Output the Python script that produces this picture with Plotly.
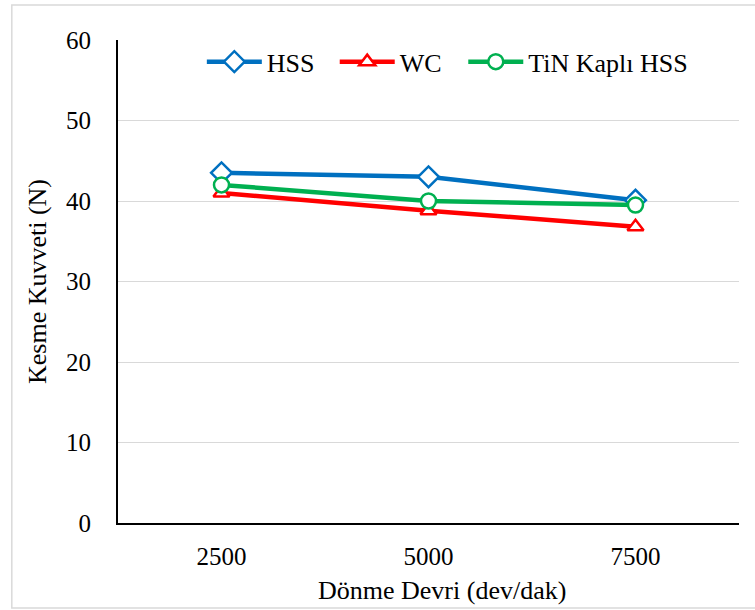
import plotly.graph_objects as go

categories = ["2500", "5000", "7500"]
hss = [43.5, 43.0, 40.1]
wc = [41.0, 38.8, 36.8]
tin = [42.0, 40.0, 39.5]
series_names = ["HSS", "WC", "TiN Kaplı HSS"]
colors = ["#0070C0", "#FF0000", "#00B050"]
symbols = ["diamond", "triangle-up", "circle"]
sizes = [16, 14, 15]
legend_ids = ["legend", "legend2", "legend3"]
legend_x = [0.135, 0.349, 0.556]

fig = go.Figure()
for name, vals, col, sym, sz, lg in zip(series_names, [hss, wc, tin], colors, symbols, sizes, legend_ids):
    fig.add_trace(go.Scatter(
        x=categories, y=vals, name=name, mode="lines+markers", legend=lg,
        line=dict(color=col, width=4.5),
        marker=dict(symbol=sym, size=sz, color="white", line=dict(width=2.5, color=col)),
    ))

font = "Liberation Serif, Times New Roman, serif"
legend_style = dict(orientation="h", y=0.955, xanchor="left", yanchor="middle",
                    font=dict(size=26), bgcolor="rgba(0,0,0,0)", itemwidth=55)
fig.update_layout(
    width=755, height=610,
    margin=dict(l=118, r=16, t=40, b=87),
    paper_bgcolor="white", plot_bgcolor="white",
    font=dict(family=font, size=24, color="black"),
    showlegend=True,
    legend=dict(x=legend_x[0], **legend_style),
    legend2=dict(x=legend_x[1], **legend_style),
    legend3=dict(x=legend_x[2], **legend_style),
    xaxis=dict(type="category", range=[-0.5, 2.5], showgrid=False,
               showline=True, linecolor="black", linewidth=2, ticks="",
               tickfont=dict(size=25), ticklabelstandoff=10),
    yaxis=dict(range=[0, 60], dtick=10, showgrid=True, gridcolor="#D9D9D9", gridwidth=1.3,
               showline=True, linecolor="black", linewidth=2, ticks="",
               tickfont=dict(size=25), ticklabelstandoff=20, zeroline=False,
               title=dict(text="Kesme Kuvveti (N)", standoff=12, font=dict(size=26))),
    annotations=[dict(text="Dönme Devri (dev/dak)", xref="paper", yref="paper",
                      x=0.522, y=-0.139, xanchor="center", yanchor="middle",
                      showarrow=False, font=dict(size=26))],
    shapes=[dict(type="rect", xref="paper", yref="paper",
                 x0=-0.171, x1=1.06, y0=-0.176, y1=1.0725,
                 line=dict(color="#D9D9D9", width=1.5), layer="below")],
)
fig.write_html("out.html")
